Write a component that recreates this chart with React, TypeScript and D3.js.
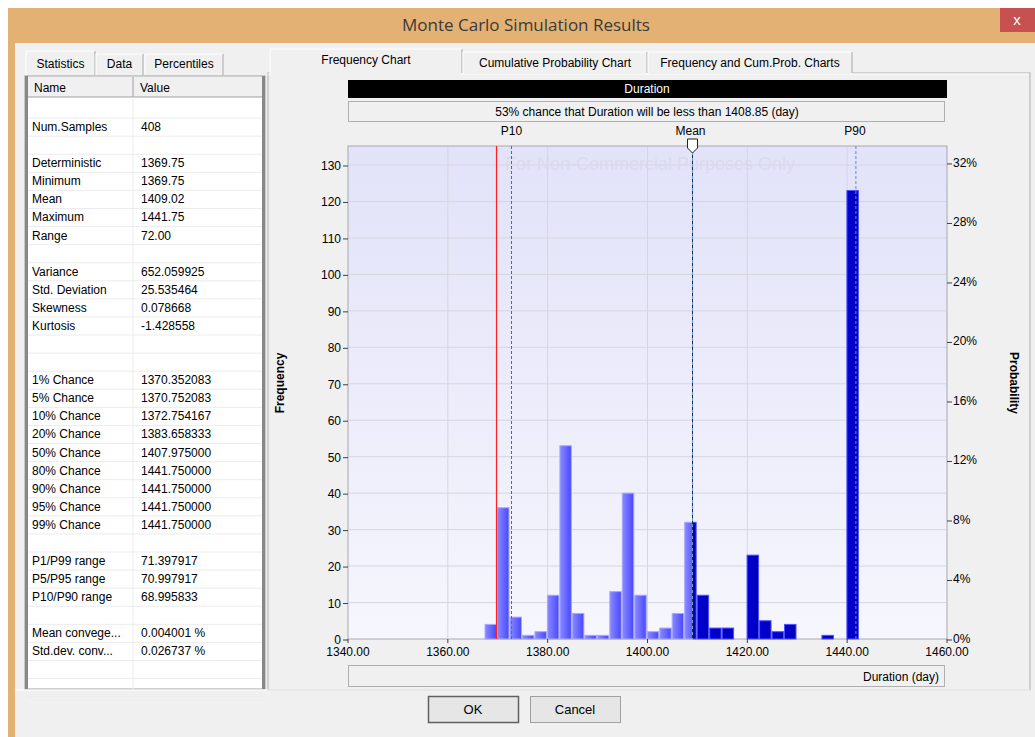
import React from "react";
import * as d3 from "d3";

// ---------- data ----------
const binStart = 1367.35;
const binWidth = 2.5;
const binCounts = [4, 36, 6, 1, 2, 12, 53, 7, 1, 1, 13, 40, 12, 2, 3, 7, 32, 12, 3, 3, 0, 23, 5, 2, 4, 0, 0, 1, 0, 123];
const numSamples = 408;
const deterministicValue = 1369.75;
const p10Value = 1372.754167;
const meanValue = 1409.02;
const p90Value = 1441.75;
const xTicks = [1340, 1360, 1380, 1400, 1420, 1440, 1460];
const yTicks = [0, 10, 20, 30, 40, 50, 60, 70, 80, 90, 100, 110, 120, 130];
const probTicks = [0, 0.04, 0.08, 0.12, 0.16, 0.2, 0.24, 0.28, 0.32];

const statNames = [
  "", "Num.Samples", "", "Deterministic", "Minimum", "Mean", "Maximum", "Range", "",
  "Variance", "Std. Deviation", "Skewness", "Kurtosis", "", "",
  "1% Chance", "5% Chance", "10% Chance", "20% Chance", "50% Chance", "80% Chance", "90% Chance", "95% Chance", "99% Chance", "",
  "P1/P99 range", "P5/P95 range", "P10/P90 range", "", "Mean convege...", "Std.dev. conv...", "", "",
];
const statValues = [
  "", "408", "", "1369.75", "1369.75", "1409.02", "1441.75", "72.00", "",
  "652.059925", "25.535464", "0.078668", "-1.428558", "", "",
  "1370.352083", "1370.752083", "1372.754167", "1383.658333", "1407.975000", "1441.750000", "1441.750000", "1441.750000", "1441.750000", "",
  "71.397917", "70.997917", "68.995833", "", "0.004001 %", "0.026737 %", "", "",
];

const FONT = "'Liberation Sans', Arial, sans-serif";

export default function App() {
  const x = d3.scaleLinear().domain([1340, 1460]).range([348, 947]);
  const y = d3.scaleLinear().domain([0, 130]).range([639, 165]);
  const yProb = d3.scaleLinear().domain([0, 130 / numSamples]).range([639, 165]);
  const plotTop = 146;
  const plotBottom = 639;

  const bins = binCounts.map((c, i) => ({
    x0: binStart + i * binWidth,
    x1: binStart + (i + 1) * binWidth,
    count: c,
  }));

  const leftTabs = [
    { label: "Statistics", x0: 26, x1: 95 },
    { label: "Data", x0: 96, x1: 143 },
    { label: "Percentiles", x0: 145, x1: 223 },
  ];
  const rightTabs = [
    { label: "Frequency Chart", x0: 270, x1: 462, sel: true },
    { label: "Cumulative Probability Chart", x0: 463, x1: 647, sel: false },
    { label: "Frequency and Cum.Prob. Charts", x0: 648, x1: 852, sel: false },
  ];

  const rowH = 18.08;
  const rowTop = 100;

  const xm = x(meanValue);

  return (
    <svg
      width={1035}
      height={737}
      style={{ position: "absolute", left: 0, top: 0, fontFamily: FONT }}
    >
      <defs>
        <linearGradient id="plotBg" x1="0" y1="0" x2="0" y2="1">
          <stop offset="0" stopColor="#e2e2f9" />
          <stop offset="1" stopColor="#f6f6fd" />
        </linearGradient>
        <linearGradient id="lightBar" x1="0" y1="0" x2="1" y2="0">
          <stop offset="0" stopColor="#8a8aff" />
          <stop offset="1" stopColor="#4848ff" />
        </linearGradient>
        <linearGradient id="darkBar" x1="0" y1="0" x2="1" y2="0">
          <stop offset="0" stopColor="#0000d8" />
          <stop offset="1" stopColor="#0000b8" />
        </linearGradient>
        <clipPath id="leftOfMean">
          <rect x={0} y={0} width={xm} height={737} />
        </clipPath>
        <clipPath id="rightOfMean">
          <rect x={xm} y={0} width={1035 - xm} height={737} />
        </clipPath>
      </defs>

      {/* page */}
      <rect x={0} y={0} width={1035} height={737} fill="#ffffff" />
      {/* dialog frame */}
      <rect x={8} y={8} width={1027} height={729} fill="#e3b173" />
      <rect x={15} y={43} width={1020} height={694} fill="#f0f0f0" />
      <text x={526} y={31} textAnchor="middle" fontSize={17} fill="#3a3a3a" fontFamily="'Open Sans', 'Liberation Sans', sans-serif">
        Monte Carlo Simulation Results
      </text>
      <rect x={1000} y={8} width={35} height={24} fill="#c75050" />
      <text x={1017} y={25} textAnchor="middle" fontSize={15} fill="#ffffff">
        x
      </text>

      {/* left tabs */}
      {leftTabs.map((t, i) => (
        <g key={t.label}>
          <path
            d={`M${t.x0},75 L${t.x0},${i === 0 ? 51 : 54} L${t.x1},${i === 0 ? 51 : 54} L${t.x1},75`}
            fill="#f0f0f0"
            stroke="#ffffff"
            strokeWidth={1}
          />
          <line x1={t.x1} y1={i === 0 ? 51 : 54} x2={t.x1} y2={75} stroke="#a0a0a0" />
          <text x={(t.x0 + t.x1) / 2} y={68} textAnchor="middle" fontSize={12} fill="#000">
            {t.label}
          </text>
        </g>
      ))}

      {/* statistics table */}
      <rect x={25} y={76} width={240} height={613} fill="#ffffff" stroke="#a0a0a0" />
      <rect x={25} y={76} width={3} height={613} fill="#888" />
      <rect x={262} y={76} width={3} height={613} fill="#888" />
      <rect x={28} y={77} width={234} height={20} fill="#f0f0f0" />
      <line x1={28} y1={97} x2={262} y2={97} stroke="#a0a0a0" />
      <line x1={133} y1={77} x2={133} y2={97} stroke="#a0a0a0" />
      <line x1={133} y1={97} x2={133} y2={689} stroke="#ececec" />
      <text x={34} y={92} fontSize={12} fill="#000">Name</text>
      <text x={140} y={92} fontSize={12} fill="#000">Value</text>
      {statNames.map((n, i) => (
        <g key={i}>
          <line x1={28} y1={rowTop + (i + 1) * rowH} x2={262} y2={rowTop + (i + 1) * rowH} stroke="#ececec" />
          <text x={32} y={rowTop + i * rowH + 13} fontSize={12} fill="#000">{n}</text>
          <text x={141} y={rowTop + i * rowH + 13} fontSize={12} fill="#000">{statValues[i]}</text>
        </g>
      ))}

      {/* right panel */}
      <rect x={268} y={73} width={762} height={617} fill="#f0f0f0" stroke="#b0b0b0" />
      <line x1={268} y1={74} x2={1029} y2={74} stroke="#ffffff" />
      {rightTabs.map((t) => (
        <g key={t.label}>
          <path
            d={`M${t.x0},74 L${t.x0},${t.sel ? 49 : 52} L${t.x1},${t.sel ? 49 : 52} L${t.x1},74`}
            fill="#f0f0f0"
            stroke="#ffffff"
          />
          <line x1={t.x1} y1={t.sel ? 49 : 52} x2={t.x1} y2={73} stroke="#a0a0a0" />
          <text x={(t.x0 + t.x1) / 2} y={t.sel ? 64 : 67} textAnchor="middle" fontSize={12} fill="#000">
            {t.label}
          </text>
        </g>
      ))}
      {rightTabs[0].sel && <line x1={271} y1={74} x2={461} y2={74} stroke="#f0f0f0" strokeWidth={2} />}

      {/* chart header */}
      <rect x={348} y={80} width={599} height={18} fill="#000" />
      <text x={647} y={93} textAnchor="middle" fontSize={12} fill="#fff">Duration</text>
      <rect x={348.5} y={101.5} width={596} height={20} fill="#f0f0f0" stroke="#b0b0b0" />
      <text x={647} y={116} textAnchor="middle" fontSize={12} fill="#000">
        53% chance that Duration will be less than 1408.85 (day)
      </text>

      {/* plot area */}
      <rect x={348} y={plotTop} width={599} height={plotBottom - plotTop} fill="url(#plotBg)" stroke="#a8a8b0" />
      {yTicks.filter((t) => t > 0).map((t) => (
        <line key={"gy" + t} x1={349} x2={946} y1={y(t)} y2={y(t)} stroke="#d6d6de" />
      ))}
      {xTicks.slice(1, -1).map((t) => (
        <line key={"gx" + t} x1={x(t)} x2={x(t)} y1={plotTop + 1} y2={plotBottom} stroke="#d6d6de" />
      ))}
      <text x={650} y={170} textAnchor="middle" fontSize={18} fill="#d8d8ea" fillOpacity={0.75}>
        For Non-Commercial Purposes Only
      </text>

      {/* bars */}
      {bins.filter((b) => b.count > 0).map((b, i) => {
        const bx = x(b.x0);
        const bw = x(b.x1) - x(b.x0);
        const by = y(b.count);
        const bh = y(0) - y(b.count);
        return (
          <g key={"bar" + i}>
            <rect clipPath="url(#leftOfMean)" x={bx + 0.5} y={by} width={bw - 1} height={bh} fill="url(#lightBar)" stroke="#a8a8ff" strokeWidth={1} />
            <rect clipPath="url(#rightOfMean)" x={bx + 0.5} y={by} width={bw - 1} height={bh} fill="url(#darkBar)" stroke="#5050ff" strokeWidth={1} />
          </g>
        );
      })}

      {/* markers */}
      <line x1={x(deterministicValue)} x2={x(deterministicValue)} y1={plotTop} y2={plotBottom} stroke="#ff2020" strokeWidth={1.2} />
      <line x1={x(p10Value)} x2={x(p10Value)} y1={plotTop} y2={plotBottom} stroke="#3a70b0" strokeDasharray="3,2" />
      <line x1={xm} x2={xm} y1={plotTop} y2={plotBottom} stroke="#402020" strokeWidth={1} />
      <line x1={xm} x2={xm} y1={plotTop} y2={plotBottom} stroke="#5aa0e0" strokeDasharray="3,3" />
      <line x1={x(p90Value)} x2={x(p90Value)} y1={plotTop} y2={plotBottom} stroke="#5a90d0" strokeDasharray="3,2" />
      <text x={x(p10Value)} y={135} textAnchor="middle" fontSize={12} fill="#000">P10</text>
      <text x={xm - 2} y={135} textAnchor="middle" fontSize={12} fill="#000">Mean</text>
      <text x={x(p90Value) - 1} y={135} textAnchor="middle" fontSize={12} fill="#000">P90</text>
      <path d={`M${xm - 5},139 L${xm + 5},139 L${xm + 5},148 L${xm},153 L${xm - 5},148 Z`} fill="#ffffff" stroke="#202020" />

      {/* left axis */}
      {yTicks.map((t) => (
        <g key={"yl" + t}>
          <line x1={343} x2={348} y1={y(t) + 1} y2={y(t) + 1} stroke="#404040" />
          <text x={341} y={y(t) + 5} textAnchor="end" fontSize={12} fill="#000">{t}</text>
        </g>
      ))}
      {/* right axis */}
      {probTicks.map((t) => (
        <g key={"yr" + t}>
          <line x1={947} x2={952} y1={yProb(t) + 1} y2={yProb(t) + 1} stroke="#404040" />
          <text x={953} y={yProb(t) + 4} fontSize={12} fill="#000">{`${Math.round(t * 100)}%`}</text>
        </g>
      ))}
      {/* bottom axis */}
      {xTicks.map((t) => (
        <g key={"xt" + t}>
          <line x1={x(t)} x2={x(t)} y1={plotBottom} y2={plotBottom + 4} stroke="#404040" />
          <text x={x(t)} y={656} textAnchor="middle" fontSize={12} fill="#000">{t.toFixed(2)}</text>
        </g>
      ))}
      <text transform="translate(284,383) rotate(-90)" textAnchor="middle" fontSize={12} fontWeight="bold" fill="#000">Frequency</text>
      <text transform="translate(1010,383) rotate(90)" textAnchor="middle" fontSize={12} fontWeight="bold" fill="#000">Probability</text>

      <rect x={348.5} y={665.5} width={596} height={21} fill="#f0f0f0" stroke="#b0b0b0" />
      <text x={939} y={681} textAnchor="end" fontSize={12} fill="#000">Duration (day)</text>

      {/* buttons */}
      <line x1={15} y1={690} x2={1030} y2={690} stroke="#ffffff" />
      <rect x={428.5} y={696.5} width={90} height={26} fill="#e6e6e6" stroke="#606060" strokeWidth={1.5} />
      <text x={473} y={714} textAnchor="middle" fontSize={13} fill="#000">OK</text>
      <rect x={530.5} y={696.5} width={90} height={26} fill="#e6e6e6" stroke="#a0a0a0" />
      <text x={575} y={714} textAnchor="middle" fontSize={13} fill="#000">Cancel</text>
    </svg>
  );
}
